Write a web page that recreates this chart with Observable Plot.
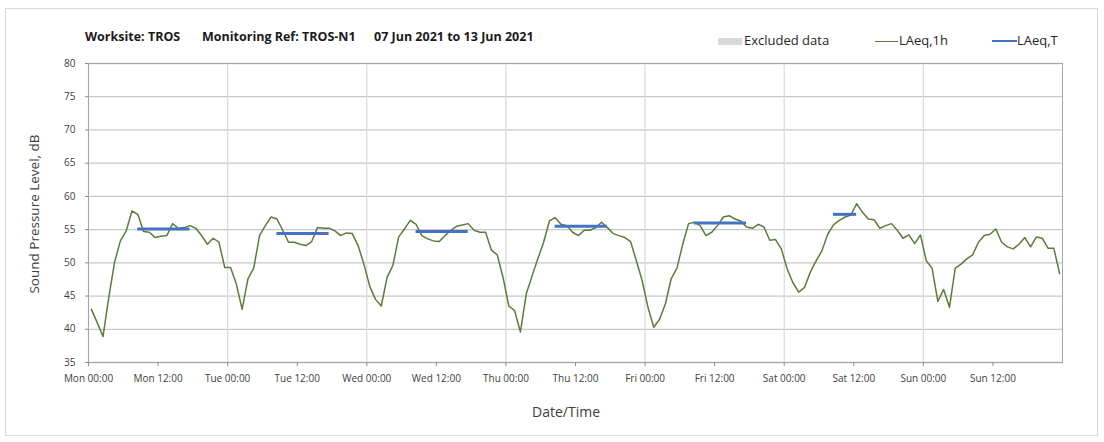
<!DOCTYPE html>
<html>
<head>
<meta charset="utf-8">
<script src="https://cdn.jsdelivr.net/npm/d3@7"></script>
<script src="https://cdn.jsdelivr.net/npm/@observablehq/plot@0.6"></script>
<style>
  html, body { margin: 0; padding: 0; background: #fff; }
  #wrap { position: relative; width: 1104px; height: 442px; font-family: "Open Sans", sans-serif; }
  .abs { position: absolute; white-space: pre; line-height: 1; }
  .title { font-weight: bold; font-size: 12.5px; color: #1a1a1a; top: 31px; }
  .leg { font-size: 13px; color: #262626; top: 34px; }
  #border { position: absolute; left: 5px; top: 8px; width: 1093px; height: 428px; border: 1px solid #d9d9d9; box-sizing: border-box; }
</style>
</head>
<body>
<div id="wrap">
  <div id="border"></div>
  <div id="chart" style="position:absolute;left:0;top:0;"></div>
</div>
<script>
// ---- data ----
const startDate = "2021-06-07T00:00:00Z";
const endDate = "2021-06-14T00:00:00Z";
const titleParts = ["Worksite: TROS", "Monitoring Ref: TROS-N1", "07 Jun 2021 to 13 Jun 2021"];
const yLabel = "Sound Pressure Level, dB";
const xLabel = "Date/Time";
const seriesNames = ["Excluded data", "LAeq,1h", "LAeq,T"];
const yTicks = [35, 40, 45, 50, 55, 60, 65, 70, 75, 80];

// hourly LAeq,1h values (one per hour, Mon 00:00 .. Sun 23:00)
const laeq1h = [
  43.0, 41.0, 38.9, 44.8, 50.1, 53.3, 54.8, 57.8, 57.3, 54.7, 54.6, 53.8, 54.0, 54.1, 55.9, 55.2, 55.3, 55.6, 55.2, 54.1, 52.8, 53.7, 53.1, 49.3,
  49.3, 46.8, 43.0, 47.6, 49.2, 54.1, 55.6, 56.9, 56.6, 54.9, 53.1, 53.1, 52.8, 52.6, 53.2, 55.3, 55.2, 55.2, 54.8, 54.1, 54.5, 54.4, 52.6, 49.8,
  46.5, 44.5, 43.5, 47.8, 49.6, 53.9, 55.1, 56.4, 55.8, 54.1, 53.6, 53.3, 53.2, 54.1, 54.9, 55.5, 55.7, 55.9, 54.9, 54.6, 54.6, 51.9, 51.2, 47.8,
  43.5, 42.8, 39.6, 45.3, 48.0, 50.6, 53.1, 56.3, 56.8, 55.8, 55.6, 54.6, 54.1, 54.9, 54.9, 55.3, 56.1, 55.3, 54.4, 54.1, 53.8, 53.2, 50.3, 47.3,
  43.3, 40.3, 41.5, 43.8, 47.6, 49.2, 52.8, 55.9, 56.1, 55.6, 54.1, 54.6, 55.6, 56.9, 57.1, 56.6, 56.3, 55.4, 55.2, 55.8, 55.4, 53.4, 53.5, 52.1,
  49.1, 47.0, 45.6, 46.3, 48.6, 50.3, 51.8, 54.3, 55.7, 56.4, 56.9, 57.2, 58.9, 57.6, 56.6, 56.5, 55.2, 55.6, 55.9, 54.9, 53.7, 54.2, 52.9, 54.2,
  50.3, 49.2, 44.2, 46.0, 43.3, 49.2, 49.8, 50.6, 51.2, 53.1, 54.1, 54.3, 55.1, 53.1, 52.4, 52.1, 52.8, 53.8, 52.4, 53.9, 53.7, 52.2, 52.2, 48.4
];

// LAeq,T working periods: day index, first hour, last hour (inclusive), value
const periodDay = [0, 1, 2, 3, 4, 5];
const periodFirstHour = [8, 8, 8, 8, 8, 8];
const periodLastHour = [17, 17, 17, 17, 17, 12];
const laeqT = [55.1, 54.4, 54.7, 55.5, 56.0, 57.3];

// ---- build ----
const t0 = new Date(startDate);
const t1 = new Date(endDate);
const HOUR = 3600 * 1000;
const hourly = laeq1h.map((v, i) => ({ t: new Date(+t0 + (i + 0.5) * HOUR), v }));
const periods = laeqT.map((v, i) => ({
  x1: new Date(+t0 + (periodDay[i] * 24 + periodFirstHour[i] + 0.5) * HOUR),
  x2: new Date(+t0 + (periodDay[i] * 24 + periodLastHour[i] + 0.5) * HOUR),
  v
}));
const halfDayTicks = d3.utcHour.every(12).range(t0, t1);
const dayTicks = d3.utcDay.range(t0, t1);
const fmt = d3.utcFormat("%a %H:%M");

const green = "#5b7d3b";
const blue = "#4472c4";

const chart = Plot.plot({
  width: 1104,
  height: 442,
  marginLeft: 88,
  marginRight: 42,
  marginTop: 63,
  marginBottom: 80,
  style: { fontFamily: "'Open Sans', sans-serif", fontSize: "10px", color: "#404040", background: "transparent" },
  x: { type: "utc", domain: [t0, t1] },
  y: { domain: [35, 80] },
  marks: [
    Plot.ruleY(yTicks, { stroke: "#c8c8c8", strokeWidth: 1.3 }),
    Plot.ruleX(dayTicks, { stroke: "#dcdcdc", strokeWidth: 1.3 }),
    Plot.frame({ stroke: "#a6a6a6" }),
    Plot.axisX({ ticks: halfDayTicks, tickFormat: fmt, tickSize: 4, tickPadding: 8, label: null, stroke: "#8c8c8c" }),
    Plot.axisY({ ticks: yTicks, tickSize: 3, tickPadding: 10, label: null, stroke: "#8c8c8c" }),
    Plot.line(hourly, { x: "t", y: "v", stroke: green, strokeWidth: 1.5 }),
    Plot.ruleY(periods, { x1: "x1", x2: "x2", y: "v", stroke: blue, strokeWidth: 3 })
  ]
});
document.getElementById("chart").appendChild(chart);

// ---- text overlays ----
const wrap = document.getElementById("wrap");
function addDiv(cls, text, css) {
  const d = document.createElement("div");
  d.className = "abs " + cls;
  d.textContent = text;
  Object.assign(d.style, css);
  wrap.appendChild(d);
  return d;
}
addDiv("title", titleParts[0], { left: "85px" });
addDiv("title", titleParts[1], { left: "202px" });
addDiv("title", titleParts[2], { left: "374px" });

// legend
const sw = document.createElement("div");
Object.assign(sw.style, { position: "absolute", left: "718px", top: "38px", width: "24px", height: "7px", background: "#d9d9d9" });
wrap.appendChild(sw);
addDiv("leg", seriesNames[0], { left: "744px" });
const l1 = document.createElement("div");
Object.assign(l1.style, { position: "absolute", left: "875px", top: "41px", width: "23px", height: "0", borderTop: "1.5px solid " + green });
wrap.appendChild(l1);
addDiv("leg", seriesNames[1], { left: "899px" });
const l2 = document.createElement("div");
Object.assign(l2.style, { position: "absolute", left: "992px", top: "40px", width: "25px", height: "0", borderTop: "2.5px solid " + blue });
wrap.appendChild(l2);
addDiv("leg", seriesNames[2], { left: "1017px" });

// axis titles
addDiv("", xLabel, { left: "566px", top: "405px", fontSize: "14px", color: "#404040", transform: "translateX(-50%)" });
addDiv("", yLabel, { left: "35px", top: "214px", fontSize: "13.5px", color: "#404040", transform: "translate(-50%, -50%) rotate(-90deg)" });
</script>
</body>
</html>
